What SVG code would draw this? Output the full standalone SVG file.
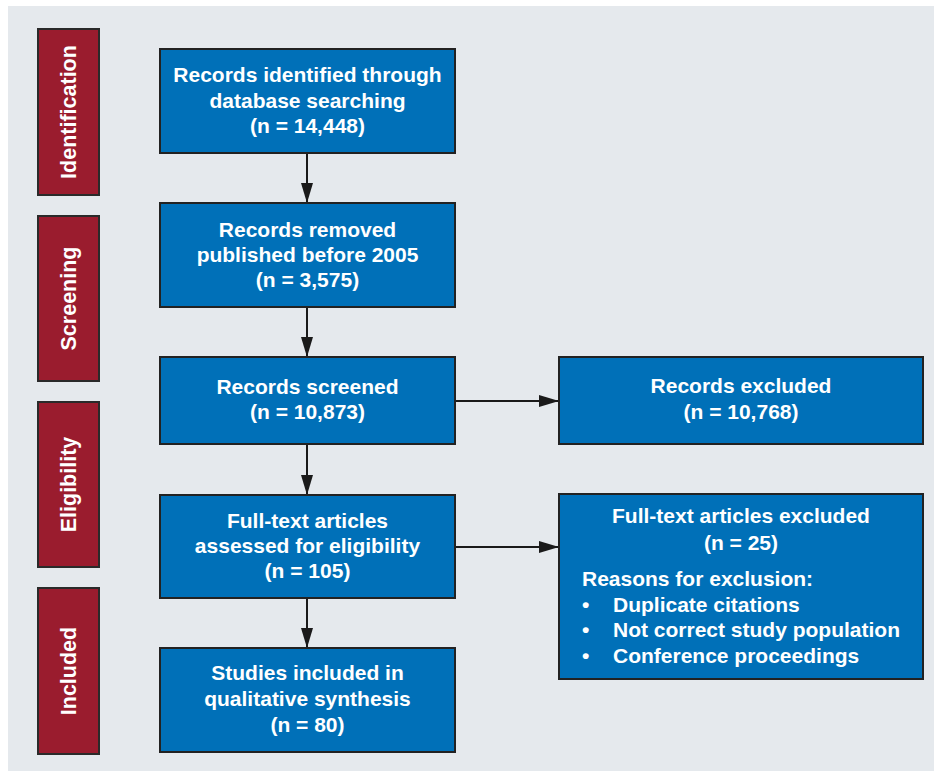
<svg xmlns="http://www.w3.org/2000/svg" width="934" height="771" viewBox="0 0 934 771">
<style>
.bg{fill:#e5e9ed}
.stage rect{fill:#9a1c2e;stroke:#2a2a2a;stroke-width:2}
.stage text{fill:#fff;font-family:"Liberation Sans",Arial,sans-serif;font-weight:bold;font-size:21.5px;text-anchor:middle}
.box rect{fill:#0070b8;stroke:#222;stroke-width:2}
.box text{fill:#fff;font-family:"Liberation Sans",Arial,sans-serif;font-weight:bold;font-size:21px;text-anchor:middle}
.box text.l{text-anchor:start}
.conn line{stroke:#1a1a1a;stroke-width:2}
</style>
<defs>
<marker id="arr" viewBox="0 0 20 12" refX="20" refY="6" markerWidth="20" markerHeight="12" markerUnits="userSpaceOnUse" orient="auto">
<path d="M0,0 L20,6 L0,12 Z" fill="#1a1a1a"/>
</marker>
</defs>
<rect class="bg" x="8" y="6" width="926" height="765"/>

<g id="stage-identification" class="stage">
<rect x="38" y="29" width="61" height="166"/>
<text transform="translate(76,112) rotate(-90)">Identification</text>
</g>
<g id="stage-screening" class="stage">
<rect x="38" y="216" width="61" height="165"/>
<text transform="translate(76,298.5) rotate(-90)">Screening</text>
</g>
<g id="stage-eligibility" class="stage">
<rect x="38" y="402" width="61" height="165"/>
<text transform="translate(76,484.5) rotate(-90)">Eligibility</text>
</g>
<g id="stage-included" class="stage">
<rect x="38" y="588" width="61" height="166"/>
<text transform="translate(76,671) rotate(-90)">Included</text>
</g>

<g id="connectors" class="conn">
<line x1="307" y1="153" x2="307" y2="203" marker-end="url(#arr)"/>
<line x1="307" y1="307" x2="307" y2="357" marker-end="url(#arr)"/>
<line x1="307" y1="444" x2="307" y2="495" marker-end="url(#arr)"/>
<line x1="307" y1="598" x2="307" y2="648" marker-end="url(#arr)"/>
<line x1="455" y1="401" x2="559" y2="401" marker-end="url(#arr)"/>
<line x1="455" y1="547" x2="559" y2="547" marker-end="url(#arr)"/>
</g>

<g id="identified" class="box">
<rect x="160" y="49" width="295" height="104"/>
<text x="307.5" y="82">Records identified through</text>
<text x="307.5" y="107.5">database searching</text>
<text x="307.5" y="133">(n = 14,448)</text>
</g>
<g id="removed" class="box">
<rect x="160" y="203" width="295" height="104"/>
<text x="307.5" y="237">Records removed</text>
<text x="307.5" y="262">published before 2005</text>
<text x="307.5" y="287">(n = 3,575)</text>
</g>
<g id="screened" class="box">
<rect x="160" y="357" width="295" height="87"/>
<text x="307.5" y="394">Records screened</text>
<text x="307.5" y="419">(n = 10,873)</text>
</g>
<g id="fulltext" class="box">
<rect x="160" y="495" width="295" height="103"/>
<text x="307.5" y="528">Full-text articles</text>
<text x="307.5" y="553">assessed for eligibility</text>
<text x="307.5" y="578">(n = 105)</text>
</g>
<g id="included" class="box">
<rect x="160" y="648" width="295" height="104"/>
<text x="307.5" y="680">Studies included in</text>
<text x="307.5" y="706">qualitative synthesis</text>
<text x="307.5" y="732">(n = 80)</text>
</g>
<g id="excluded" class="box">
<rect x="559" y="357" width="364" height="87"/>
<text x="741" y="393">Records excluded</text>
<text x="741" y="419">(n = 10,768)</text>
</g>
<g id="fulltext-excluded" class="box">
<rect x="559" y="494" width="364" height="185"/>
<text x="741" y="523">Full-text articles excluded</text>
<text x="741" y="550">(n = 25)</text>
<text class="l" x="582" y="586">Reasons for exclusion:</text>
<text class="l" x="582" y="612">•</text>
<text class="l" x="613" y="612">Duplicate citations</text>
<text class="l" x="582" y="637">•</text>
<text class="l" x="613" y="637">Not correct study population</text>
<text class="l" x="582" y="663">•</text>
<text class="l" x="613" y="663">Conference proceedings</text>
</g>
</svg>
